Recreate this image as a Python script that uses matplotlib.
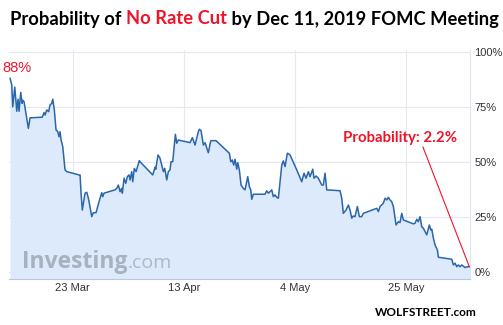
import pandas as pd
import matplotlib
matplotlib.use("Agg")
import matplotlib.pyplot as plt

# probability (%) of no rate cut; days counted from 11 Mar 2019
start = pd.Timestamp("2019-03-11")
days = [0.15, 0.47, 0.66, 1.04, 1.42, 1.66, 1.85, 2.17, 2.42, 2.55, 2.79, 3.61, 3.93,
        6.25, 6.58, 6.77, 7.09, 7.46, 7.71, 8.03, 8.22, 8.52, 8.84, 9.16, 9.41, 9.6,
        9.79, 10.11, 10.54, 10.87, 13.19, 13.38, 13.57, 13.81, 14.33, 14.65, 14.95,
        15.14, 15.59, 15.89, 16.4, 17.16, 17.48, 17.67, 17.92, 20.0, 20.32, 20.62,
        20.94, 21.26, 21.38, 21.7, 22.02, 22.32, 22.64, 22.83, 23.15, 23.34, 23.64,
        23.97, 24.59, 24.72, 27.12, 27.56, 27.69, 28.12, 28.5, 28.82, 29.13, 29.39,
        29.77, 30.07, 30.39, 30.58, 30.9, 31.02, 31.4, 31.66, 31.96, 34.17, 34.61,
        35.12, 35.74, 35.92, 36.25, 36.69, 37.01, 37.63, 38.09, 39.09, 41.6, 41.87,
        42.17, 42.43, 42.68, 43.0, 43.19, 43.49, 43.82, 44.25, 44.57, 44.76, 45.08,
        45.38, 45.65, 45.84, 46.14, 48.35, 48.67, 48.98, 49.3, 49.62, 49.92, 50.24,
        50.56, 50.87, 51.51, 51.81, 52.13, 52.32, 52.57, 53.08, 54.34, 55.29, 55.72,
        56.1, 56.54, 56.86, 57.37, 57.61, 57.99, 58.43, 59.07, 59.37, 59.69, 60.01,
        62.53, 62.85, 63.15, 63.66, 64.1, 64.42, 64.74, 65.04, 65.36, 65.8, 66.18,
        66.63, 66.93, 69.47, 69.77, 70.09, 70.71, 71.04, 71.36, 71.66, 71.98, 72.3,
        72.61, 73.12, 73.55, 73.87, 74.19, 74.5, 76.39, 76.71, 77.03, 77.33, 77.65,
        77.97, 78.28, 78.6, 78.92, 79.41, 79.68, 79.87, 80.17, 80.49, 80.93, 81.12,
        83.65, 83.95, 84.27, 84.59, 84.9, 85.21, 85.53, 86.16, 86.59, 86.97]
prob = [88.0, 85.0, 75.0, 84.0, 73.0, 78.5, 73.0, 81.6, 76.6, 78.0, 77.4, 65.2, 70.0,
        70.3, 72.4, 71.3, 73.6, 72.8, 75.9, 76.6, 78.5, 73.6, 64.5, 63.7, 61.4, 63.7,
        60.0, 56.9, 46.3, 45.5, 44.0, 44.0, 35.7, 28.0, 35.7, 36.1, 33.4,
        31.1, 25.0, 26.8, 26.8, 33.4, 35.9, 34.1, 35.7, 37.2, 37.9, 39.4,
        36.4, 37.9, 35.7, 42.5, 40.2, 43.2, 44.0, 41.7, 45.5, 40.9, 47.0,
        45.5, 50.5, 50.0, 44.0, 47.5, 46.6, 53.1, 51.6, 48.5, 45.5, 47.0,
        41.7, 45.5, 46.3, 50.0, 50.0, 53.1, 62.5, 58.4, 59.9, 58.7, 61.0,
        57.6, 63.7, 64.8, 64.2, 57.6, 58.7, 54.1, 59.6, 59.6, 53.9, 50.0,
        50.8, 48.5, 51.1, 46.6, 49.6, 46.3, 39.4, 37.9, 37.2, 39.4, 43.2,
        38.7, 37.2, 32.9, 35.2, 35.2, 36.8, 35.7, 36.4, 37.2, 34.1, 34.9,
        33.8, 33.4, 48.5, 50.4, 47.8, 50.5, 53.9, 53.1, 46.3, 40.9, 44.8,
        42.5, 45.5, 43.2, 46.6, 42.5, 43.5, 42.5, 39.4, 39.4, 44.8, 37.2,
        36.8, 33.4, 26.5, 28.0, 30.3, 28.0, 24.3, 25.3, 25.0, 29.6, 25.0,
        25.0, 26.5, 28.8, 27.3, 29.6, 31.1, 33.4, 32.6, 33.8, 32.6, 31.8,
        29.6, 21.2, 22.7, 22.3, 26.5, 23.5, 21.7, 22.0, 23.8, 22.7, 25.0,
        20.4, 19.7, 18.2, 16.7, 21.2, 18.9, 19.3, 15.2, 12.1, 9.8, 6.5,
        5.6, 3.0, 3.8, 2.2, 3.0, 2.2, 3.0, 1.8, 2.2, 2.2]
tick_dates = ["2019-03-23", "2019-04-13", "2019-05-04", "2019-05-25"]
tick_labels = ["23 Mar", "13 Apr", "4 May", "25 May"]
y_ticks = [0, 25, 50, 75, 100]

dates = start + pd.to_timedelta(days, unit="D")
red = "#f0142a"

fig = plt.figure(figsize=(5.03, 3.25), dpi=100)
ax = fig.add_axes([9 / 503, 1 - 279 / 325, 460.5 / 503, 229 / 325])
ymin, ymax = -3.4, 100.9
ax.fill_between(dates, prob, ymin, color="#dceafb", lw=0)
ax.plot(dates, prob, color="#2a66ab", lw=1.1)
ax.set_ylim(ymin, ymax)
ax.set_xlim(start - pd.Timedelta(days=0.05), start + pd.Timedelta(days=87.0))

ax.yaxis.tick_right()
ax.set_yticks(y_ticks)
ax.set_yticklabels([f"{v}%" for v in y_ticks], family="Liberation Sans")
ax.set_xticks(pd.to_datetime(tick_dates))
ax.set_xticklabels(tick_labels, family="Liberation Sans")
ax.tick_params(length=0, labelsize=8, labelcolor="#333333")
ax.tick_params(axis="y", pad=3.5)
ax.tick_params(axis="x", pad=3)
ax.grid(color="#e2e9f2", lw=0.8)
ax.set_axisbelow(True)
for s in ["top", "left"]:
    ax.spines[s].set_visible(False)
ax.spines["bottom"].set_color("#b9c8da")
ax.spines["right"].set_color("#dfe6ef")

# watermark
wm = ax.text(0.029, 0.05, "Investing", transform=ax.transAxes, fontsize=16.5,
             fontweight="bold", color="#a8b2bf", family="Open Sans", va="baseline")
fig.canvas.draw()
r = fig.canvas.get_renderer()
bb = wm.get_window_extent(r).transformed(ax.transAxes.inverted())
ax.text(bb.x1, 0.05, ".com", transform=ax.transAxes, fontsize=14,
        color="#afb8c4", family="Open Sans", va="baseline")

# title in three colours
parts = [("Probability of ", "black"), ("No Rate Cut", red),
         (" by Dec 11, 2019 FOMC Meeting", "black")]
x = 10 / 503
for txt, col in parts:
    t = fig.text(x, 1 - 19 / 325, txt, fontsize=13.2, fontweight="bold", color=col,
                 family="Lato", va="center", ha="left")
    fig.canvas.draw()
    x = t.get_window_extent(r).transformed(fig.transFigure.inverted()).x1

# annotations
fig.text(2 / 503, 1 - 68 / 325, f"{prob[0]:.0f}%", color=red, fontsize=10.5,
         family="Liberation Sans", va="center", ha="left")
lbl_day, lbl_val = 73.8, 60.8
ax.text(start + pd.Timedelta(days=lbl_day), lbl_val, f"Probability: {prob[-1]}%",
        color=red, fontsize=10.8, fontweight="bold", family="Lato", ha="center", va="center")
ax.plot([start + pd.Timedelta(days=78.2), dates[-1]], [56.7, prob[-1]],
        color=red, lw=0.8, clip_on=False)

fig.text(477 / 503, 1 - 312 / 325, "WOLFSTREET.com", fontsize=8.5, fontweight="bold",
         family="Lato", ha="right", va="center", color="black")

fig.savefig("out.png", dpi=100)
